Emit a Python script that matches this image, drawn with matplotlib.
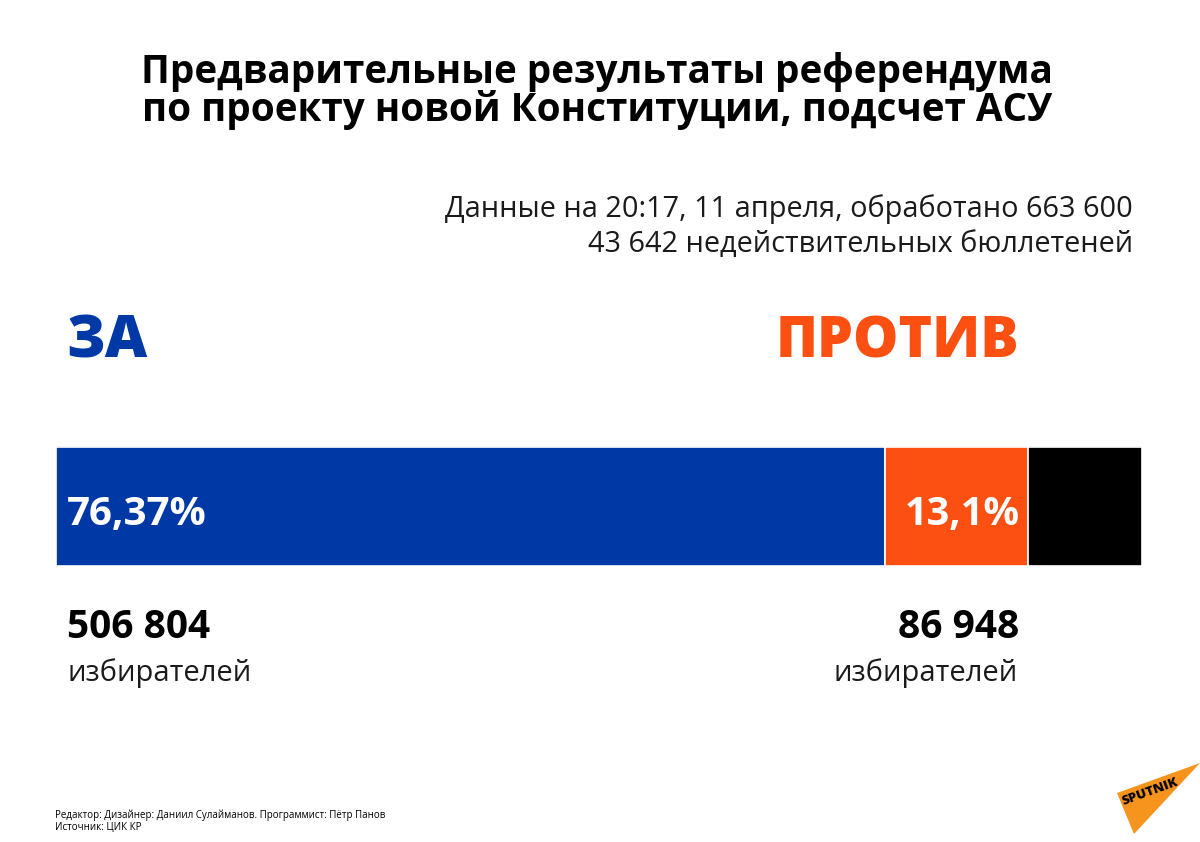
import matplotlib
matplotlib.use('Agg')
import matplotlib.pyplot as plt
from matplotlib.patches import Polygon

###############################################################################
# Data
shares = [76.37, 13.1, 100 - 76.37 - 13.1]
share_labels = ['76,37%', '13,1%', '']
bar_colors = ['#0039a6', '#fc4f12', '#000000']
votes_for = '506 804'
votes_against = '86 948'

title = ('Предварительные результаты референдума\n'
         'по проекту новой Конституции, подсчет АСУ')
subtitle = ['Данные на 20:17, 11 апреля, обработано 663 600',
            '43 642 недействительных бюллетеней']
footer = ['Редактор: Дизайнер: Даниил Сулайманов. Программист: Пётр Панов',
          'Источник: ЦИК КР']

plt.rcParams['font.family'] = ['Open Sans', 'DejaVu Sans']

W, H = 1200, 842
fig = plt.figure(figsize=(W / 100, H / 100), dpi=100)

# Overlay axes in pixel coordinates for the text
ov = fig.add_axes([0, 0, 1, 1])
ov.set_xlim(0, W)
ov.set_ylim(H, 0)
ov.axis('off')

ov.text(597, 121, title, ha='center', va='baseline', fontsize=27.8,
        fontweight='bold', linespacing=0.93, color='black')

ov.text(1133, 217, subtitle[0], ha='right', va='baseline', fontsize=20.8,
        color='#1a1a1a')
ov.text(1133, 252, subtitle[1], ha='right', va='baseline', fontsize=20.8,
        color='#1a1a1a')

ov.text(66, 357, 'ЗА', ha='left', va='baseline', fontsize=42,
        fontweight='heavy', color=bar_colors[0])
ov.text(1019, 357, 'ПРОТИВ', ha='right', va='baseline', fontsize=41,
        fontweight='heavy', color=bar_colors[1])

ov.text(67, 638, votes_for, ha='left', va='baseline', fontsize=28,
        fontweight='bold', color='black')
ov.text(68, 681, 'избирателей', ha='left', va='baseline', fontsize=21,
        color='#1a1a1a')
ov.text(1019, 638, votes_against, ha='right', va='baseline', fontsize=28,
        fontweight='bold', color='black')
ov.text(1018, 681, 'избирателей', ha='right', va='baseline', fontsize=21,
        color='#1a1a1a')

ov.text(55, 818, footer[0], ha='left', va='baseline', fontsize=7.05,
        color='black')
ov.text(55, 830, footer[1], ha='left', va='baseline', fontsize=7.05,
        color='black')

# Sputnik logo
ov.add_patch(Polygon([(1117, 793), (1200, 763), (1134, 834)],
                     closed=True, color='#f7941d', lw=0))
ov.text(1150, 792, 'SPUTNIK', ha='center', va='center', fontsize=9.5,
        fontweight='heavy', rotation=20, color='black')

###############################################################################
# Stacked bar
bx = fig.add_axes([56 / W, 1 - 567 / H, 1086 / W, 121 / H])
bx.barh(0, 100, height=1, color='none', edgecolor='#dddddd', linewidth=1)
left = 0
for val, lab, col in zip(shares, share_labels, bar_colors):
    bx.barh(0, val, left=left, height=0.98, color=col, edgecolor='white',
            linewidth=1.2)
    left += val
bx.set_xlim(0, 100)
bx.set_ylim(-0.5, 0.5)
bx.axis('off')

bx.text(1.0, -0.07, share_labels[0], ha='left', va='center', fontsize=29,
        fontweight='bold', color='white')
bx.text(shares[0] + shares[1] - 0.7, -0.07, share_labels[1], ha='right',
        va='center', fontsize=28.5, fontweight='bold', color='white')

fig.savefig('out.png', dpi=100, facecolor='white')
